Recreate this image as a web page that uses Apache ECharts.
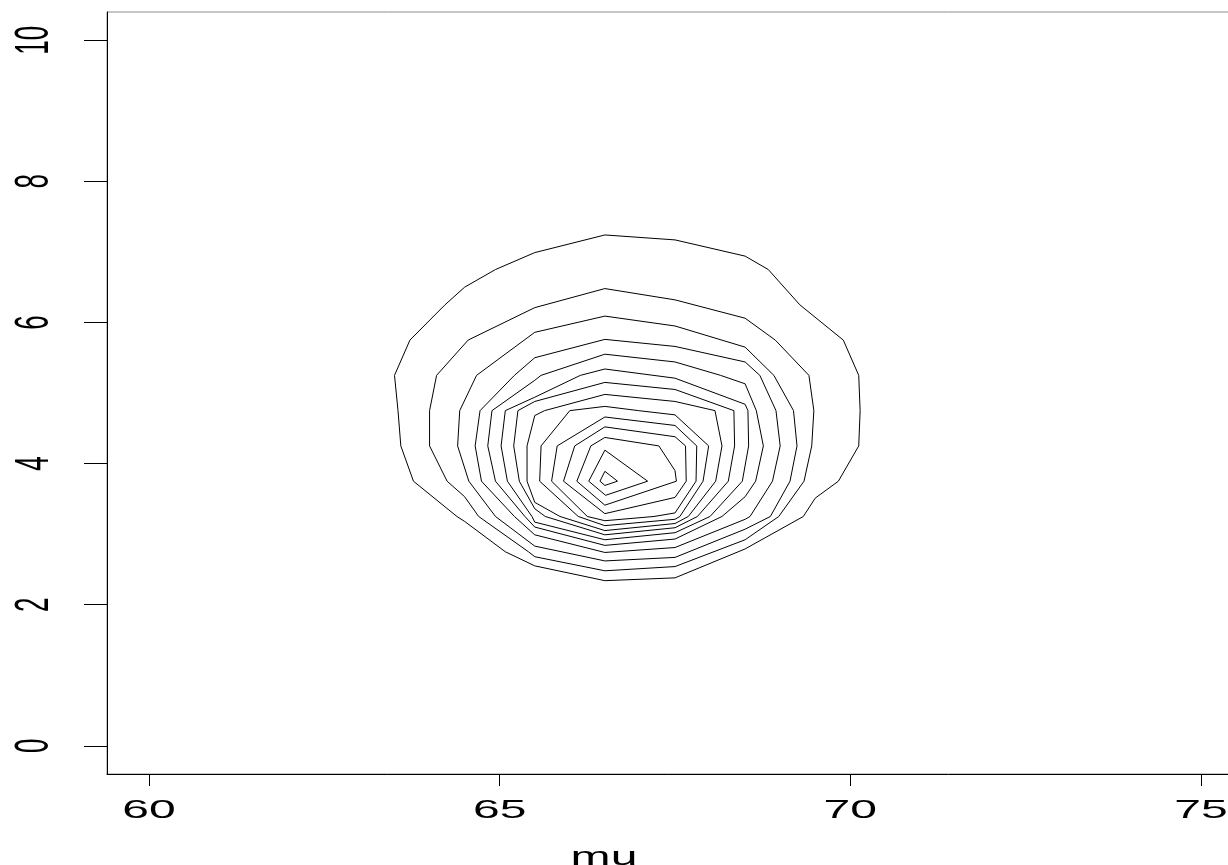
<!DOCTYPE html>
<html>
<head>
<meta charset="utf-8">
<script src="https://cdn.jsdelivr.net/npm/echarts@6/dist/echarts.min.js"></script>
<style>
  html, body { margin: 0; padding: 0; background: #ffffff; }
  #chart { width: 1228px; height: 865px; }
</style>
</head>
<body>
<div id="chart"></div>
<script>
// Axis ticks and ranges
const xTicks = [60, 65, 70, 75];
const yTicks = [0, 2, 4, 6, 8, 10];
const xRange = [59.4, 75.6];
const yRange = [-0.4, 10.4];
const xTitle = 'mu';

// Contour lines of the surface over (mu, sigma), outermost first.
// Each is a closed ring of [mu, sigma] vertices.
const level01 = [[66.50,7.24],[67.50,7.17],[68.50,6.94],[68.83,6.75],[69.28,6.25],[69.90,5.75],[70.12,5.25],[70.14,4.75],[70.12,4.25],[69.83,3.75],[69.50,3.51],[69.33,3.25],[68.50,2.79],[67.50,2.38],[66.50,2.34],[65.50,2.55],[65.08,2.75],[64.50,3.18],[64.39,3.25],[63.77,3.75],[63.59,4.25],[63.55,4.75],[63.50,5.25],[63.72,5.75],[64.22,6.25],[64.50,6.50],[64.94,6.75],[65.50,6.99]];
const level02 = [[66.50,6.48],[67.50,6.32],[68.50,6.06],[68.93,5.75],[69.41,5.25],[69.48,4.75],[69.45,4.25],[69.34,3.75],[68.98,3.25],[68.50,2.92],[67.50,2.54],[66.50,2.48],[65.50,2.68],[65.41,2.75],[64.70,3.25],[64.50,3.53],[64.25,3.75],[64.00,4.25],[64.00,4.75],[64.10,5.25],[64.55,5.75],[65.50,6.21]];
const level03 = [[66.50,6.09],[67.50,5.95],[68.50,5.65],[68.91,5.25],[69.19,4.75],[69.24,4.25],[69.14,3.75],[68.86,3.25],[68.50,3.07],[67.50,2.67],[66.50,2.62],[65.50,2.83],[64.94,3.25],[64.56,3.75],[64.40,4.25],[64.43,4.75],[64.67,5.25],[65.50,5.86]];
const level04 = [[66.50,5.76],[67.50,5.66],[68.50,5.44],[68.71,5.25],[68.94,4.75],[69.00,4.25],[68.89,3.75],[68.57,3.25],[68.50,3.21],[67.50,2.81],[66.50,2.74],[65.50,2.99],[65.21,3.25],[64.74,3.75],[64.65,4.25],[64.72,4.75],[65.21,5.25],[65.50,5.50]];
const level05 = [[66.50,5.55],[67.50,5.44],[68.15,5.25],[68.50,5.13],[68.66,4.75],[68.76,4.25],[68.65,3.75],[68.50,3.53],[68.17,3.25],[67.50,2.93],[66.50,2.84],[65.50,3.10],[65.36,3.25],[64.94,3.75],[64.83,4.25],[64.89,4.75],[65.50,5.18],[65.59,5.25]];
const level06 = [[66.50,5.34],[67.50,5.21],[68.50,4.84],[68.54,4.75],[68.55,4.25],[68.46,3.75],[68.00,3.25],[67.50,3.02],[66.50,2.92],[65.50,3.17],[65.46,3.25],[65.11,3.75],[65.02,4.25],[65.08,4.75],[65.50,4.94],[66.15,5.25]];
const level07 = [[66.50,5.15],[67.50,5.05],[68.34,4.75],[68.35,4.25],[68.26,3.75],[67.82,3.25],[67.50,3.09],[66.50,2.99],[65.65,3.25],[65.50,3.36],[65.28,3.75],[65.20,4.25],[65.26,4.75],[65.50,4.88]];
const level08 = [[66.50,4.98],[67.50,4.88],[68.07,4.75],[68.17,4.25],[68.08,3.75],[67.69,3.25],[67.50,3.15],[66.50,3.05],[65.86,3.25],[65.50,3.45],[65.39,3.75],[65.39,4.25],[65.50,4.68],[65.64,4.75]];
const level09 = [[66.50,4.81],[66.98,4.75],[67.50,4.69],[67.98,4.25],[67.90,3.75],[67.57,3.25],[67.50,3.21],[66.50,3.12],[66.12,3.25],[65.57,3.75],[65.59,4.25],[66.00,4.75]];
const level10 = [[66.50,4.66],[67.50,4.54],[67.81,4.25],[67.80,3.75],[67.50,3.30],[67.20,3.25],[66.50,3.19],[66.25,3.25],[65.74,3.75],[65.82,4.25]];
const level11 = [[66.50,4.52],[67.50,4.38],[67.65,4.25],[67.66,3.75],[67.50,3.52],[66.50,3.29],[65.91,3.75],[66.07,4.25]];
const level12 = [[66.50,4.37],[67.27,4.25],[67.50,3.90],[67.52,3.75],[66.50,3.41],[66.10,3.75],[66.30,4.25]];
const level13 = [[66.50,4.19],[67.11,3.75],[66.51,3.55],[66.27,3.75]];
const level14 = [[66.50,3.89],[66.68,3.75],[66.50,3.69],[66.43,3.75]];

const contourLevels = [level01, level02, level03, level04, level05, level06, level07,
                       level08, level09, level10, level11, level12, level13, level14];

const labelFont = '26px "Liberation Sans", Arial, Helvetica, sans-serif';
const stretch = 1.85;   // wide lettering of the axis text

const chart = echarts.init(document.getElementById('chart'), null, { renderer: 'canvas' });

const series = contourLevels.map(function (ring, i) {
  return {
    type: 'line',
    name: 'level' + (i + 1),
    data: ring.concat([ring[0]]),
    showSymbol: false,
    symbol: 'none',
    smooth: false,
    silent: true,
    lineStyle: { color: '#000000', width: 1 },
    animation: false
  };
});

chart.setOption({
  animation: false,
  backgroundColor: '#ffffff',
  grid: {
    left: 107, top: 12, width: 1136, height: 762,
    outerBoundsMode: 'none', containLabel: false,
    show: true, borderColor: '#8c8c8c', borderWidth: 1, backgroundColor: 'transparent'
  },
  xAxis: {
    type: 'value', min: xRange[0], max: xRange[1],
    axisLine: { show: true, onZero: false, lineStyle: { color: '#000', width: 1 } },
    axisTick: { show: true, length: 12, lineStyle: { color: '#000', width: 1 }, customValues: xTicks },
    axisLabel: { show: false, customValues: xTicks },
    splitLine: { show: false }
  },
  yAxis: {
    type: 'value', min: yRange[0], max: yRange[1],
    axisLine: { show: true, onZero: false, lineStyle: { color: '#000', width: 1 } },
    axisTick: { show: true, length: 23, lineStyle: { color: '#000', width: 1 }, customValues: yTicks },
    axisLabel: { show: false, customValues: yTicks },
    splitLine: { show: false }
  },
  series: series
});

// Axis lettering placed through the chart's own coordinate conversion
const graphics = [];
xTicks.forEach(function (v) {
  const p = chart.convertToPixel({ xAxisIndex: 0, yAxisIndex: 0 }, [v, yRange[0]]);
  graphics.push({
    type: 'text', x: p[0], y: p[1] + 37, scaleX: stretch, silent: true,
    style: { text: String(v), font: labelFont, fill: '#000', align: 'center', verticalAlign: 'middle' }
  });
});
yTicks.forEach(function (v) {
  const p = chart.convertToPixel({ xAxisIndex: 0, yAxisIndex: 0 }, [xRange[0], v]);
  graphics.push({
    type: 'text', x: p[0] - 72, y: p[1], rotation: Math.PI / 2, scaleY: stretch, silent: true,
    style: { text: String(v), font: labelFont, fill: '#000', align: 'center', verticalAlign: 'middle' }
  });
});
const base = chart.convertToPixel({ xAxisIndex: 0, yAxisIndex: 0 }, [xRange[0], yRange[0]]);
graphics.push({
  type: 'text', x: 604, y: base[1] + 84, scaleX: stretch, silent: true,
  style: { text: xTitle, font: labelFont, fill: '#000', align: 'center', verticalAlign: 'middle' }
});
chart.setOption({ graphic: graphics });
</script>
</body>
</html>
